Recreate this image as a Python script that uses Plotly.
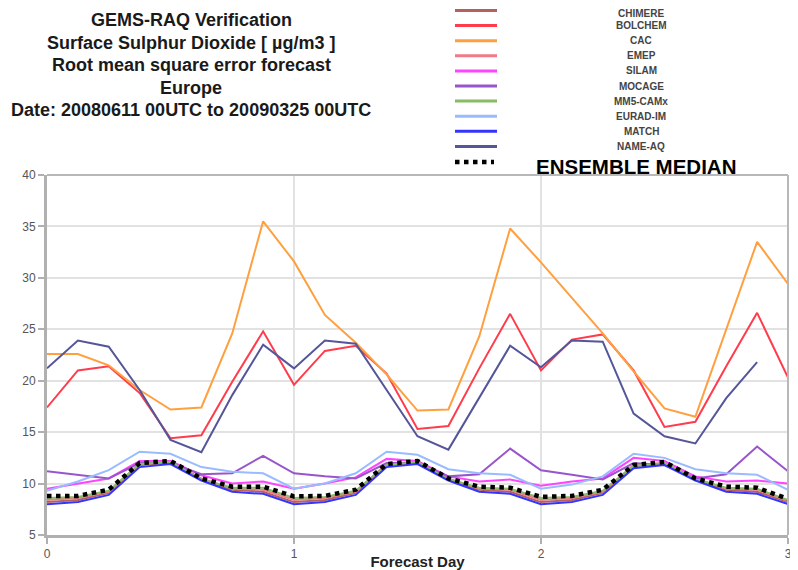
import plotly.graph_objects as go

# Forecast lead time in days (3-hourly)
lead_days = [0, 0.125, 0.25, 0.375, 0.5, 0.625, 0.75, 0.875,
             1, 1.125, 1.25, 1.375, 1.5, 1.625, 1.75, 1.875,
             2, 2.125, 2.25, 2.375, 2.5, 2.625, 2.75, 2.875, 3]

chimere = [8.2, 8.4, 9.1, 11.8, 12.0, 10.4, 9.4, 9.2, 8.2, 8.4, 9.1, 11.8, 12.0,
           10.4, 9.4, 9.2, 8.2, 8.4, 9.1, 11.7, 11.9, 10.4, 9.4, 9.2, 8.2]
bolchem = [17.4, 21.0, 21.4, 18.8, 14.4, 14.7, 19.9, 24.8, 19.6, 22.9, 23.4, 20.7, 15.3,
           15.6, 21.2, 26.5, 21.0, 24.0, 24.5, 21.0, 15.5, 16.0, 21.4, 26.6, 20.3]
cac = [22.6, 22.6, 21.5, 19.1, 17.2, 17.4, 24.6, 35.5, 31.6, 26.4, 23.7, 20.6, 17.1,
       17.2, 24.3, 34.8, 31.5, 28.0, 24.6, 20.9, 17.3, 16.5, 25.0, 33.5, 29.4]
emep = [8.4, 8.6, 9.2, 11.9, 12.1, 10.5, 9.5, 9.4, 8.4, 8.6, 9.2, 11.9, 12.1,
        10.5, 9.5, 9.4, 8.4, 8.6, 9.2, 11.8, 12.0, 10.5, 9.5, 9.4, 8.3]
silam = [9.5, 10.0, 10.5, 12.2, 12.2, 10.8, 10.0, 10.2, 9.5, 10.0, 10.6, 12.4, 12.2,
         10.7, 10.2, 10.4, 9.8, 10.2, 10.5, 12.5, 12.2, 10.7, 10.2, 10.3, 10.0]
mocage = [11.2, 10.85, 10.5, 12.0, 12.0, 10.9, 11.0, 12.7, 11.0, 10.7, 10.5, 12.0, 12.0,
          10.7, 10.9, 13.4, 11.3, 10.85, 10.4, 12.0, 11.8, 10.5, 10.9, 13.6, 11.2]
mm5_camx = [8.6, 8.7, 9.3, 11.9, 12.1, 10.4, 9.6, 9.6, 8.6, 8.7, 9.3, 11.8, 12.1,
            10.4, 9.6, 9.5, 8.6, 8.7, 9.3, 11.7, 12.0, 10.4, 9.6, 9.5, 8.4]
eurad_im = [9.3, 10.2, 11.3, 13.1, 12.9, 11.6, 11.15, 11.0, 9.5, 10.0, 11.0, 13.1, 12.8,
            11.4, 11.0, 10.85, 9.5, 9.9, 10.7, 12.9, 12.5, 11.4, 11.0, 10.85, 9.4]
match = [8.0, 8.2, 8.9, 11.6, 11.9, 10.3, 9.2, 9.0, 8.0, 8.2, 8.9, 11.6, 11.9,
         10.3, 9.2, 9.0, 8.0, 8.2, 8.9, 11.5, 11.8, 10.3, 9.2, 9.0, 8.0]
name_aq = [21.2, 23.9, 23.3, 19.1, 14.25, 13.05, 18.6, 23.5, 21.2, 23.9, 23.6, 19.1, 14.6,
           13.3, 18.4, 23.4, 21.3, 23.9, 23.8, 16.8, 14.6, 13.9, 18.3, 21.8, None]
ens_median = [8.8, 8.8, 9.4, 12.0, 12.2, 10.5, 9.7, 9.7, 8.75, 8.8, 9.4, 11.9, 12.2,
              10.5, 9.7, 9.6, 8.7, 8.8, 9.4, 11.8, 12.1, 10.5, 9.7, 9.6, 8.5]

model_names = ["CHIMERE", "BOLCHEM", "CAC", "EMEP", "SILAM", "MOCAGE",
               "MM5-CAMx", "EURAD-IM", "MATCH", "NAME-AQ"]
model_values = [chimere, bolchem, cac, emep, silam, mocage,
                mm5_camx, eurad_im, match, name_aq]
model_colors = ["#b4605e", "#ff3c4c", "#ffa040", "#f07a88", "#ff44ff", "#9955cc",
                "#88bb66", "#99bbff", "#3434ff", "#555599"]

title_lines = ["GEMS-RAQ Verification",
               "Surface Sulphur Dioxide [ µg/m3 ]",
               "Root mean square error forecast",
               "Europe",
               "Date: 20080611 00UTC to 20090325 00UTC"]

fig = go.Figure()

for name, vals, col in zip(model_names, model_values, model_colors):
    fig.add_trace(go.Scatter(x=lead_days, y=vals, mode="lines", name=name,
                             line=dict(color=col, width=2), showlegend=False))

fig.add_trace(go.Scatter(x=lead_days, y=ens_median, mode="lines", name="ENSEMBLE MEDIAN",
                         line=dict(color="black", width=4.5, dash="dot"),
                         showlegend=False))

# The page body adds an 8px offset; the figure is sized/placed to compensate.
OFF = 8
W, H = 798 - OFF, 570 - OFF
L, R, T, B = 47 - OFF, 10, 175 - OFF, 35

fig.update_layout(
    width=W, height=H,
    margin=dict(l=L, r=R, t=T, b=B, autoexpand=False),
    paper_bgcolor="white", plot_bgcolor="white",
    font=dict(family="Liberation Sans, Arial, sans-serif"),
    showlegend=False,
)

fig.update_xaxes(range=[0, 3], tickvals=[0, 1, 2, 3], ticktext=["0", "1", "2", "3"],
                 showgrid=True, gridcolor="#e2e2e2", gridwidth=1.5,
                 showline=True, linecolor="#b0b0b0", linewidth=3, mirror=False,
                 ticks="outside", ticklen=6, tickcolor="#b0b0b0", tickwidth=2,
                 tickfont=dict(size=12, color="#555555"), zeroline=False,
                 automargin=False,
                 title=dict(text="<b>Forecast Day</b>", font=dict(size=15, color="#222222"),
                            standoff=2))
fig.update_yaxes(range=[5, 40], tickvals=[5, 10, 15, 20, 25, 30, 35, 40],
                 showgrid=True, gridcolor="#e2e2e2", gridwidth=1.5,
                 showline=True, linecolor="#b0b0b0", linewidth=3, mirror=False,
                 ticks="outside", ticklen=6, tickcolor="#b0b0b0", tickwidth=2,
                 tickfont=dict(size=12, color="#555555"), zeroline=False,
                 automargin=False)

# top and right frame
fig.add_shape(type="line", xref="paper", yref="paper", x0=0, x1=1, y0=1, y1=1,
              line=dict(color="#b8b8b8", width=2))
fig.add_shape(type="line", xref="paper", yref="paper", x0=1, x1=1, y0=0, y1=1,
              line=dict(color="#b8b8b8", width=2))

pw = W - L - R
ph = H - T - B


def px_x(px):
    return (px - OFF - L) / pw


def px_y(py):
    return 1 + (T - (py - OFF)) / ph


# Title block (top-left)
title_y0 = 20
for k, line in enumerate(title_lines):
    fig.add_annotation(text="<b>" + line + "</b>", xref="paper", yref="paper",
                       x=px_x(191), y=px_y(title_y0 + 22.6 * k),
                       xanchor="center", yanchor="middle", showarrow=False,
                       font=dict(size=18, color="#1a1a1a"))

# Manual legend (top-right)
leg_y0 = 10.5
leg_dy = 15.1
for k, (name, col) in enumerate(zip(model_names, model_colors)):
    yy = leg_y0 + leg_dy * k
    ty = max(yy, 13.5)
    fig.add_shape(type="line", xref="paper", yref="paper",
                  x0=px_x(455), x1=px_x(497), y0=px_y(yy), y1=px_y(yy),
                  line=dict(color=col, width=3))
    fig.add_annotation(text="<b>" + name + "</b>", xref="paper", yref="paper",
                       x=px_x(641), y=px_y(ty), xanchor="center", yanchor="middle",
                       showarrow=False, font=dict(size=10, color="#444444"))
yy = 162
fig.add_shape(type="line", xref="paper", yref="paper",
              x0=px_x(455), x1=px_x(494), y0=px_y(yy), y1=px_y(yy),
              line=dict(color="black", width=4.5, dash="dot"))
fig.add_annotation(text="<b>ENSEMBLE MEDIAN</b>", xref="paper", yref="paper",
                   x=px_x(636), y=px_y(166), xanchor="center", yanchor="middle",
                   showarrow=False, font=dict(size=20.5, color="black"))

fig.write_html("out.html")
